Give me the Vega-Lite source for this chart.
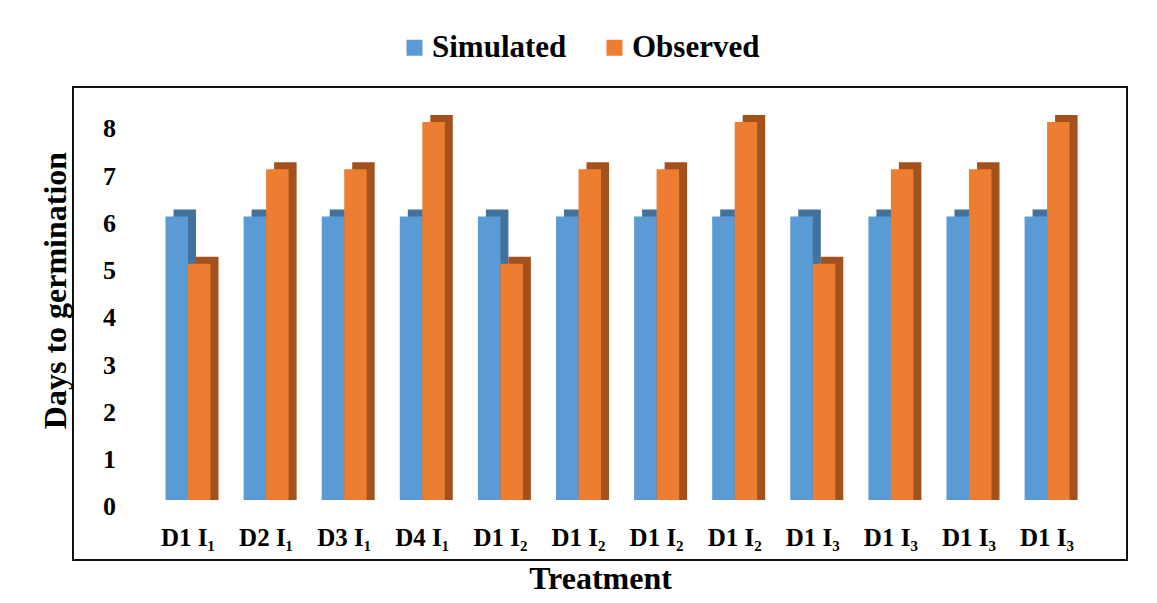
{
  "$schema": "https://vega.github.io/schema/vega-lite/v6.json",
  "width": 1054,
  "height": 473,
  "autosize": {"type": "none"},
  "padding": {"left": 73, "top": 87, "right": 30, "bottom": 43},
  "background": "white",
  "config": {
    "font": "Liberation Serif",
    "view": {"stroke": "#111111", "strokeWidth": 2},
    "legend": {"labelFont": "Liberation Serif", "titleFont": "Liberation Serif"},
    "axis": {"labelFont": "Liberation Serif", "titleFont": "Liberation Serif"}
  },
  "data": {
    "values": [
      {"key": "01|D1 I₁", "series": "Simulated", "days": 6},
      {"key": "01|D1 I₁", "series": "Observed", "days": 5},
      {"key": "02|D2 I₁", "series": "Simulated", "days": 6},
      {"key": "02|D2 I₁", "series": "Observed", "days": 7},
      {"key": "03|D3 I₁", "series": "Simulated", "days": 6},
      {"key": "03|D3 I₁", "series": "Observed", "days": 7},
      {"key": "04|D4 I₁", "series": "Simulated", "days": 6},
      {"key": "04|D4 I₁", "series": "Observed", "days": 8},
      {"key": "05|D1 I₂", "series": "Simulated", "days": 6},
      {"key": "05|D1 I₂", "series": "Observed", "days": 5},
      {"key": "06|D1 I₂", "series": "Simulated", "days": 6},
      {"key": "06|D1 I₂", "series": "Observed", "days": 7},
      {"key": "07|D1 I₂", "series": "Simulated", "days": 6},
      {"key": "07|D1 I₂", "series": "Observed", "days": 7},
      {"key": "08|D1 I₂", "series": "Simulated", "days": 6},
      {"key": "08|D1 I₂", "series": "Observed", "days": 8},
      {"key": "09|D1 I₃", "series": "Simulated", "days": 6},
      {"key": "09|D1 I₃", "series": "Observed", "days": 5},
      {"key": "10|D1 I₃", "series": "Simulated", "days": 6},
      {"key": "10|D1 I₃", "series": "Observed", "days": 7},
      {"key": "11|D1 I₃", "series": "Simulated", "days": 6},
      {"key": "11|D1 I₃", "series": "Observed", "days": 7},
      {"key": "12|D1 I₃", "series": "Simulated", "days": 6},
      {"key": "12|D1 I₃", "series": "Observed", "days": 8}
    ]
  },
  "encoding": {
    "x": {
      "field": "key",
      "type": "nominal",
      "sort": "ascending",
      "scale": {"paddingInner": 0.424, "paddingOuter": 0.96, "align": 0.617},
      "axis": {
        "labelExpr": "split(datum.value, '|')[1]",
        "labelAngle": 0,
        "labelFont": "Liberation Serif",
        "labelFontSize": 25,
        "labelFontWeight": "bold",
        "labelColor": "black",
        "labelPadding": -23,
        "labelBaseline": "middle",
        "ticks": false,
        "tickSize": 0,
        "domain": false,
        "grid": false,
        "title": "Treatment",
        "titleFont": "Liberation Serif",
        "titleFontSize": 32,
        "titleFontWeight": "bold",
        "titleColor": "black",
        "titleY": 18,
        "titleBaseline": "middle"
      }
    },
    "y": {
      "field": "days",
      "type": "quantitative",
      "scale": {"domain": [-1.27, 8.74], "nice": false, "zero": false},
      "axis": {
        "values": [0, 1, 2, 3, 4, 5, 6, 7, 8],
        "grid": false,
        "domain": false,
        "ticks": false,
        "tickSize": 0,
        "labelAlign": "center",
        "labelPadding": -36,
        "labelBaseline": "middle",
        "labelOffset": 7,
        "labelFont": "Liberation Serif",
        "labelFontSize": 26,
        "labelFontWeight": "bold",
        "labelColor": "black",
        "title": "Days to germination",
        "titleFont": "Liberation Serif",
        "titleFontSize": 32,
        "titleFontWeight": "bold",
        "titleColor": "black",
        "titleX": -18,
        "titleY": 203,
        "titleAngle": -90,
        "titleAlign": "center",
        "titleBaseline": "middle"
      }
    },
    "y2": {"datum": 0}
  },
  "resolve": {"scale": {"xOffset": "independent"}},
  "layer": [
    {
      "transform": [{"filter": "datum.series == 'Simulated'"}],
      "mark": {"type": "bar", "color": "#41719c", "yOffset": -7},
      "encoding": {
        "xOffset": {
          "field": "series",
          "type": "nominal",
          "scale": {"domain": ["Simulated", "Observed"], "range": [8, 53], "paddingInner": 0, "paddingOuter": 0}
        }
      }
    },
    {
      "transform": [{"filter": "datum.series == 'Observed'"}],
      "mark": {"type": "bar", "color": "#a3521d", "yOffset": -7},
      "encoding": {
        "xOffset": {
          "field": "series",
          "type": "nominal",
          "scale": {"domain": ["Simulated", "Observed"], "range": [8, 53], "paddingInner": 0, "paddingOuter": 0}
        }
      }
    },
    {
      "mark": {"type": "bar"},
      "encoding": {
        "xOffset": {
          "field": "series",
          "type": "nominal",
          "scale": {"domain": ["Simulated", "Observed"], "range": [0, 45], "paddingInner": 0, "paddingOuter": 0}
        },
        "color": {
          "field": "series",
          "type": "nominal",
          "scale": {"domain": ["Simulated", "Observed"], "range": ["#5b9bd5", "#ed7d31"]},
          "legend": {
            "orient": "none",
            "legendX": 326,
            "legendY": -55,
            "direction": "horizontal",
            "title": null,
            "symbolType": "square",
            "symbolSize": 256,
            "symbolStrokeWidth": 0,
            "symbolOpacity": 1,
            "labelFont": "Liberation Serif",
            "labelFontSize": 31,
            "labelFontWeight": "bold",
            "labelColor": "black",
            "labelOffset": 2,
            "columnPadding": 32
          }
        }
      }
    }
  ]
}
